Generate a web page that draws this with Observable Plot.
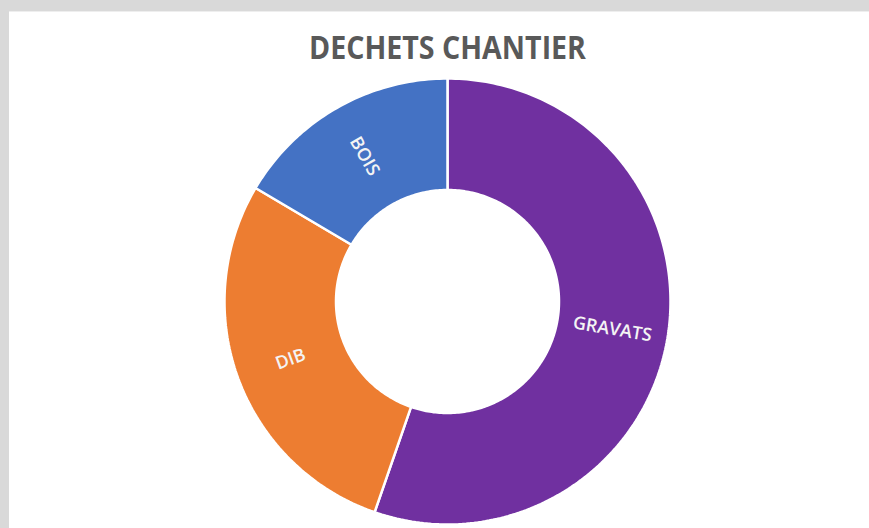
<!DOCTYPE html>
<html>
<head>
<meta charset="utf-8">
<script src="https://cdn.jsdelivr.net/npm/d3@7"></script>
<script src="https://cdn.jsdelivr.net/npm/@observablehq/plot@0.6"></script>
<style>
  html, body { margin: 0; padding: 0; background: #d9d9d9; width: 869px; height: 528px; overflow: hidden; }
  #panel { position: absolute; left: 9px; top: 11px; right: 0; bottom: 0; background: #ffffff; border-top: 1px solid #eeeeee; }
  #chart { position: absolute; left: 0; top: 0; }
</style>
</head>
<body>
<div id="panel"></div>
<div id="chart"></div>
<script>
const title = "DECHETS CHANTIER";
const categories = ["GRAVATS", "DIB", "BOIS"];
const values = [55.3, 28.2, 16.5];
const colors = ["#7030A0", "#ED7D31", "#4472C4"];

const innerRatio = 0.5;
const total = d3.sum(values);
const slices = [];
let acc = 0;
categories.forEach((name, i) => {
  const a0 = acc / total * 360;
  acc += values[i];
  const a1 = acc / total * 360;
  slices.push({name, a0, a1});
});

// polygon outline of each ring segment (angles clockwise from 12 o'clock)
const rad = d => d * Math.PI / 180;
const pts = [];
for (const s of slices) {
  const n = Math.max(8, Math.ceil((s.a1 - s.a0) / 1));
  for (let k = 0; k <= n; k++) {
    const a = rad(s.a0 + (s.a1 - s.a0) * k / n);
    pts.push({name: s.name, x: Math.sin(a), y: Math.cos(a)});
  }
  for (let k = n; k >= 0; k--) {
    const a = rad(s.a0 + (s.a1 - s.a0) * k / n);
    pts.push({name: s.name, x: innerRatio * Math.sin(a), y: innerRatio * Math.cos(a)});
  }
}

const labels = slices.map(s => {
  const m = (s.a0 + s.a1) / 2;
  let r = m - 90;
  r = ((r % 180) + 180) % 180;
  if (r > 90) r -= 180;
  const rr = (1 + innerRatio) / 2;
  return {name: s.name, x: rr * Math.sin(rad(m)), y: rr * Math.cos(rad(m)), rotate: r};
});

const plot = Plot.plot({
  width: 869,
  height: 528,
  marginLeft: 224,
  marginRight: 199,
  marginTop: 78,
  marginBottom: 4,
  style: {background: "transparent", overflow: "visible"},
  x: {domain: [-1, 1], axis: null},
  y: {domain: [-1, 1], axis: null},
  color: {domain: categories, range: colors},
  marks: [
    Plot.line(pts, {x: "x", y: "y", z: "name", fill: "name", stroke: "white", strokeWidth: 2.5, strokeLinejoin: "miter", curve: "linear-closed"}),
    Plot.text(labels, {x: "x", y: "y", text: "name", rotate: "rotate", fill: "#f4f4f4", fontSize: 18, fontFamily: "Open Sans", fontWeight: 600}),
    Plot.text([title], {frameAnchor: "top", lineAnchor: "bottom", dy: -20, fill: "#595959", fontSize: 33, fontWeight: "bold", fontFamily: "Open Sans", className: "title-text"})
  ]
});
document.getElementById("chart").appendChild(plot);
const t = plot.querySelector(".title-text text");
if (t) { t.setAttribute("textLength", "277"); t.setAttribute("lengthAdjust", "spacingAndGlyphs"); }
</script>
</body>
</html>
